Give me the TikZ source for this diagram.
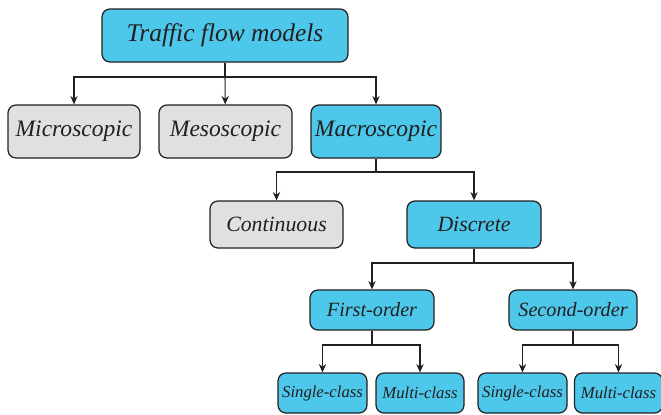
\documentclass[tikz,border=0pt]{standalone}
\usepackage{fontspec}
\setmainfont{Liberation Serif}
\usepackage{tikz}
\usetikzlibrary{arrows.meta}
\definecolor{tf_blue}{RGB}{77, 199, 234}
\definecolor{tf_grey}{RGB}{223, 224, 226}
\definecolor{tf_ink}{RGB}{35, 31, 32}
\tikzstyle{box}=[rectangle,rounded corners=4.5pt,draw=tf_ink,line width=0.7pt,
  text=tf_ink,inner sep=2pt,font=\itshape]
\tikzstyle{bn}=[box,fill=tf_blue]
\tikzstyle{gb}=[box,fill=tf_grey]
\tikzstyle{arr}=[draw=tf_ink,line width=0.6pt,-{Stealth[length=4.8pt,width=4.2pt,inset=1.6pt]}]
\tikzstyle{ln}=[draw=tf_ink,line width=0.6pt]

\begin{document}
\begin{tikzpicture}[x=0.02cm,y=-0.02cm]
    \useasboundingbox (0,0) rectangle (661,414);
    % level 1
    \node [style=bn,minimum width=4.92cm,minimum height=1.06cm,font=\itshape\fontsize{14.5}{16}\selectfont] (tfm) at (225,35.5) {Traffic flow models};
    % level 2
    \node [style=gb,minimum width=2.64cm,minimum height=1.06cm,font=\itshape\fontsize{13.4}{15}\selectfont] (micro) at (74,131.5) {Microscopic};
    \node [style=gb,minimum width=2.66cm,minimum height=1.06cm,font=\itshape\fontsize{13.4}{15}\selectfont] (meso) at (225.5,131.5) {Mesoscopic};
    \node [style=bn,minimum width=2.60cm,minimum height=1.06cm,font=\itshape\fontsize{13.4}{15}\selectfont] (macro) at (376,131.5) {Macroscopic};
    % level 3
    \node [style=gb,minimum width=2.66cm,minimum height=0.94cm,font=\itshape\fontsize{12.4}{14}\selectfont] (cont) at (276.5,224.5) {Continuous};
    \node [style=bn,minimum width=2.68cm,minimum height=0.94cm,font=\itshape\fontsize{12.4}{14}\selectfont] (disc) at (474,224.5) {Discrete};
    % level 4
    \node [style=bn,minimum width=2.48cm,minimum height=0.80cm,font=\itshape\fontsize{11.5}{13}\selectfont] (first) at (372,310) {First-order};
    \node [style=bn,minimum width=2.56cm,minimum height=0.80cm,font=\itshape\fontsize{11.5}{13}\selectfont] (second) at (573,310) {Second-order};
    % level 5
    \node [style=bn,minimum width=1.78cm,minimum height=0.80cm,font=\itshape\fontsize{9.5}{11}\selectfont] (fsingle) at (322.5,393) {Single-class};
    \node [style=bn,minimum width=1.76cm,minimum height=0.80cm,font=\itshape\fontsize{9.5}{11}\selectfont] (fmulti) at (420,393) {Multi-class};
    \node [style=bn,minimum width=1.78cm,minimum height=0.80cm,font=\itshape\fontsize{9.5}{11}\selectfont] (ssingle) at (522.5,393) {Single-class};
    \node [style=bn,minimum width=1.76cm,minimum height=0.80cm,font=\itshape\fontsize{9.5}{11}\selectfont] (smulti) at (618.5,393) {Multi-class};
    % junctions
    \coordinate (j1) at (225,77);
    \coordinate (j2) at (376,172);
    \coordinate (j3) at (474,263);
    \coordinate (j4) at (372,345);
    \coordinate (j5) at (573,345);
    \draw [style=ln] (tfm) -- (j1);
    \draw [style=arr] (j1) -- (meso);
    \draw [style=arr] (j1) -| (micro);
    \draw [style=arr] (j1) -| (macro);
    \draw [style=ln] (macro) -- (j2);
    \draw [style=arr] (j2) -| (cont);
    \draw [style=arr] (j2) -| (disc);
    \draw [style=ln] (disc) -- (j3);
    \draw [style=arr] (j3) -| (first);
    \draw [style=arr] (j3) -| (second);
    \draw [style=ln] (first) -- (j4);
    \draw [style=arr] (j4) -| (fsingle);
    \draw [style=arr] (j4) -| (fmulti);
    \draw [style=ln] (second) -- (j5);
    \draw [style=arr] (j5) -| (ssingle);
    \draw [style=arr] (j5) -| (smulti);
  \end{tikzpicture}
\end{document}
